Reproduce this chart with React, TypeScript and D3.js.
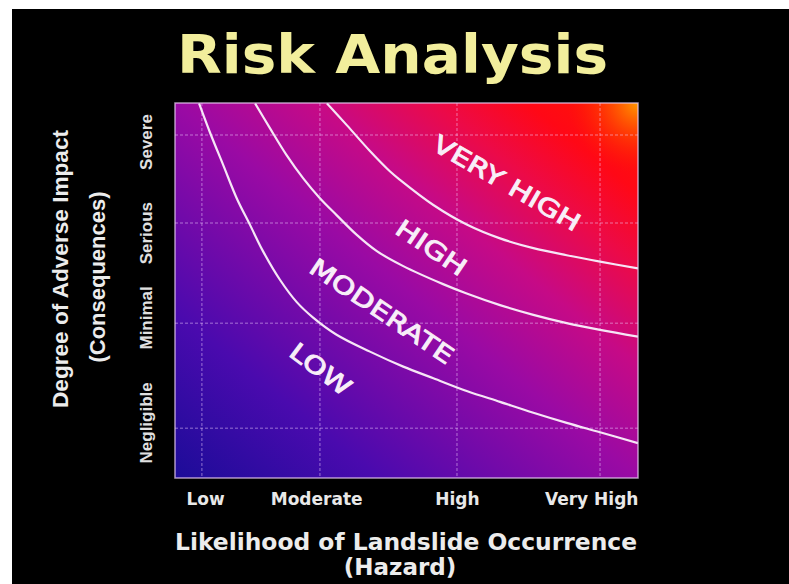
import React from "react";
import * as d3 from "d3";

// ---------- data ----------
const xTickLabels = ["Low", "Moderate", "High", "Very High"];
const xTickValues = [0.066, 0.306, 0.61, 0.9];
const xGridValues = [0.058, 0.313, 0.609, 0.918];

const yTickLabels = ["Negligible", "Minimal", "Serious", "Severe"];
const yTickValues = [0.147, 0.427, 0.653, 0.896];
const yGridValues = [0.133, 0.413, 0.68, 0.915];

// boundary curves (x = likelihood, y = impact, both 0..1)
const lowModerate: [number, number][] = [
  [0.052, 0.999], [0.076, 0.92], [0.104, 0.835], [0.134, 0.744], [0.162, 0.675],
  [0.19, 0.605], [0.227, 0.528], [0.263, 0.469], [0.299, 0.427], [0.349, 0.382],
  [0.421, 0.337], [0.493, 0.297], [0.558, 0.266], [0.63, 0.232], [0.702, 0.203],
  [0.774, 0.174], [0.846, 0.147], [0.918, 0.122], [1.0, 0.093],
];
const moderateHigh: [number, number][] = [
  [0.173, 0.999], [0.205, 0.933], [0.241, 0.861], [0.277, 0.799], [0.313, 0.746],
  [0.349, 0.701], [0.392, 0.649], [0.436, 0.605], [0.493, 0.565], [0.579, 0.517],
  [0.63, 0.492], [0.702, 0.461], [0.774, 0.435], [0.846, 0.413], [0.918, 0.395],
  [1.0, 0.377],
];
const highVeryHigh: [number, number][] = [
  [0.328, 0.999], [0.371, 0.941], [0.421, 0.872], [0.464, 0.818], [0.486, 0.795],
  [0.558, 0.728], [0.63, 0.676], [0.702, 0.639], [0.774, 0.613], [0.846, 0.594],
  [0.918, 0.577], [1.0, 0.559],
];
const curves = [lowModerate, moderateHigh, highVeryHigh];

const zoneNames = ["LOW", "MODERATE", "HIGH", "VERY HIGH"];
const zoneX = [0.314, 0.446, 0.553, 0.716];
const zoneY = [0.289, 0.444, 0.613, 0.785];

const title = "Risk Analysis";
const xTitle = ["Likelihood of Landslide Occurrence", "(Hazard)"];
const yTitle = ["Degree of Adverse Impact", "(Consequences)"];

// ---------- layout ----------
const W = 789;
const H = 584;
const plot = { left: 175, right: 638, top: 103, bottom: 478 };
const zoneStyle = [
  { angle: 37, len: 70 },
  { angle: 34, len: 168 },
  { angle: 34, len: 80 },
  { angle: 30, len: 166 },
];

export default function App() {
  const x = d3.scaleLinear().domain([0, 1]).range([plot.left, plot.right]);
  const y = d3.scaleLinear().domain([0, 1]).range([plot.bottom, plot.top]);
  const line = d3
    .line<[number, number]>()
    .x((d) => x(d[0]))
    .y((d) => y(d[1]))
    .curve(d3.curveCatmullRom.alpha(0.5));
  const pw = plot.right - plot.left;
  const ph = plot.bottom - plot.top;

  return (
    <svg
      width={W}
      height={H}
      style={{ position: "absolute", left: 0, top: 0, display: "block" }}
    >
      <defs>
        <linearGradient id="bg" x1="0" y1="1" x2="1" y2="0">
          <stop offset="0" stopColor="#1c0c98" />
          <stop offset="0.22" stopColor="#4a0aae" />
          <stop offset="0.5" stopColor="#9a0aa4" />
          <stop offset="0.65" stopColor="#c60a86" />
          <stop offset="0.78" stopColor="#ec0a48" />
          <stop offset="0.88" stopColor="#ff0816" />
          <stop offset="1" stopColor="#ff1800" />
        </linearGradient>
        <radialGradient
          id="glow"
          gradientUnits="userSpaceOnUse"
          cx={plot.right}
          cy={plot.top}
          r={70}
        >
          <stop offset="0" stopColor="#ff9a00" stopOpacity="1" />
          <stop offset="0.5" stopColor="#ff5a00" stopOpacity="0.5" />
          <stop offset="1" stopColor="#ff2000" stopOpacity="0" />
        </radialGradient>
        <clipPath id="plotClip">
          <rect x={plot.left} y={plot.top} width={pw} height={ph} />
        </clipPath>
      </defs>

      <rect x={0} y={0} width={W} height={H} fill="#ffffff" />
      <rect x={12} y={9} width={W - 12} height={H - 9} fill="#000000" />

      <text
        x={392.5}
        y={73}
        textAnchor="middle"
        fontFamily="DejaVu Sans"
        fontWeight="bold"
        fontSize={54}
        fill="#f2ee9c"
        textLength={431}
        lengthAdjust="spacingAndGlyphs"
      >
        {title}
      </text>

      <rect x={plot.left} y={plot.top} width={pw} height={ph} fill="url(#bg)" />
      <rect x={plot.left} y={plot.top} width={pw} height={ph} fill="url(#glow)" />

      <g clipPath="url(#plotClip)">
        {xGridValues.map((v, i) => (
          <line
            key={"gx" + i}
            x1={x(v)}
            x2={x(v)}
            y1={plot.top}
            y2={plot.bottom}
            stroke="#f0d0ff"
            strokeOpacity={0.35}
            strokeWidth={1.5}
            strokeDasharray="3,2"
          />
        ))}
        {yGridValues.map((v, i) => (
          <line
            key={"gy" + i}
            x1={plot.left}
            x2={plot.right}
            y1={y(v)}
            y2={y(v)}
            stroke="#f0d0ff"
            strokeOpacity={0.35}
            strokeWidth={1.5}
            strokeDasharray="3,2"
          />
        ))}
        {curves.map((c, i) => (
          <path
            key={"c" + i}
            d={line(c) || ""}
            fill="none"
            stroke="#f6e6f6"
            strokeWidth={2.2}
          />
        ))}
        {zoneNames.map((n, i) => (
          <text
            key={"z" + i}
            transform={`translate(${x(zoneX[i])},${y(zoneY[i])}) rotate(${zoneStyle[i].angle})`}
            textAnchor="middle"
            dominantBaseline="central"
            fontFamily="DejaVu Sans"
            fontSize={24}
            fill="#f8eef8"
            stroke="#f8eef8"
            strokeWidth={0.9}
            textLength={zoneStyle[i].len}
            lengthAdjust="spacingAndGlyphs"
          >
            {n}
          </text>
        ))}
      </g>

      <rect
        x={plot.left}
        y={plot.top}
        width={pw}
        height={ph}
        fill="none"
        stroke="#e6c8f0"
        strokeOpacity={0.75}
        strokeWidth={1.5}
      />

      {xTickLabels.map((t, i) => (
        <text
          key={"xt" + i}
          x={x(xTickValues[i])}
          y={505}
          textAnchor="middle"
          fontFamily="DejaVu Sans"
          fontWeight="bold"
          fontSize={17}
          fill="#e8e8e8"
        >
          {t}
        </text>
      ))}

      <text
        x={406}
        y={550}
        textAnchor="middle"
        fontFamily="DejaVu Sans"
        fontWeight="bold"
        fontSize={23}
        fill="#ececec"
        textLength={462}
        lengthAdjust="spacingAndGlyphs"
      >
        {xTitle[0]}
      </text>
      <text
        x={400}
        y={575}
        textAnchor="middle"
        fontFamily="DejaVu Sans"
        fontWeight="bold"
        fontSize={23}
        fill="#ececec"
      >
        {xTitle[1]}
      </text>

      {yTickLabels.map((t, i) => (
        <text
          key={"yt" + i}
          transform={`translate(152,${y(yTickValues[i])}) rotate(-90)`}
          textAnchor="middle"
          fontFamily="Liberation Sans"
          fontWeight="bold"
          fontSize={17}
          fill="#e0e0e0"
        >
          {t}
        </text>
      ))}

      <text
        transform="translate(68,269) rotate(-90)"
        textAnchor="middle"
        fontFamily="Liberation Sans"
        fontWeight="bold"
        fontSize={22}
        fill="#ececec"
        textLength={278}
        lengthAdjust="spacingAndGlyphs"
      >
        {yTitle[0]}
      </text>
      <text
        transform="translate(105,277) rotate(-90)"
        textAnchor="middle"
        fontFamily="Liberation Sans"
        fontWeight="bold"
        fontSize={22}
        fill="#ececec"
      >
        {yTitle[1]}
      </text>
    </svg>
  );
}
